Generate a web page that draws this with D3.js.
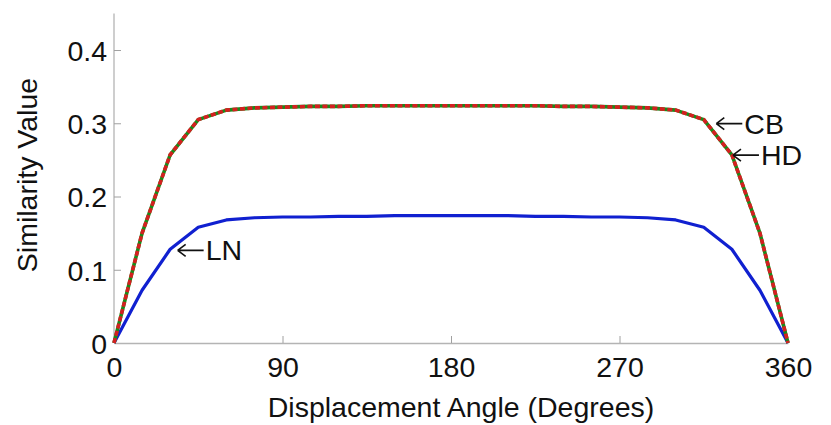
<!doctype html>
<html>

<head>
    <meta charset="utf-8">
    <title>Similarity</title>
    <style>
    body {
        margin: 0;
        background: #fff;
    }

    text {
        font-family: "Liberation Sans", Arial, sans-serif;
        fill: #111;
    }
    </style>
    <script src="https://cdn.jsdelivr.net/npm/d3@7"></script>
</head>

<body>
    <script>
    var angles = [0, 15, 30, 45, 60, 75, 90, 105, 120, 135, 150, 165, 180,
        195, 210, 225, 240, 255, 270, 285, 300, 315, 330, 345, 360];
    var cbhd = [0, 0.150, 0.257, 0.305, 0.318, 0.321, 0.322, 0.323, 0.323, 0.324, 0.324, 0.324, 0.324,
        0.324, 0.324, 0.324, 0.323, 0.323, 0.322, 0.321, 0.318, 0.305, 0.257, 0.150, 0];
    var ln = [0, 0.072, 0.128, 0.158, 0.168, 0.171, 0.172, 0.172, 0.173, 0.173, 0.174, 0.174, 0.174,
        0.174, 0.174, 0.173, 0.173, 0.172, 0.172, 0.171, 0.168, 0.158, 0.128, 0.072, 0];
    var xTicks = [0, 90, 180, 270, 360];
    var yTicks = [0, 0.1, 0.2, 0.3, 0.4];
    // arrow tip position (angle, value) for each label
    var notes = [
        { label: "CB", a: 321.7, v: 0.2995 },
        { label: "HD", a: 330.6, v: 0.2565 },
        { label: "LN", a: 34.0, v: 0.1265 }
    ];

    var w = 831,
        h = 425,
        fs = 28.5;

    var x = d3.scaleLinear().domain([0, 360]).range([114, 788]);
    var y = d3.scaleLinear().domain([0, 0.45]).range([343, 13.4]);

    var svg = d3.select("body").append("svg")
        .attr("width", w)
        .attr("height", h);

    // axes, matlab style: ticks inward, grey lines
    var xAxis = svg.append("g")
        .attr("transform", "translate(0," + y(0) + ")")
        .call(d3.axisBottom(x).tickValues(xTicks).tickSizeInner(-7).tickSizeOuter(0).tickPadding(14));
    var yAxis = svg.append("g")
        .attr("transform", "translate(" + x(0) + ",0)")
        .call(d3.axisLeft(y).tickValues(yTicks).tickFormat(function(d) { return d === 0 ? "0" : d3.format(".1f")(d); })
            .tickSizeInner(-7).tickSizeOuter(0).tickPadding(7));

    [xAxis, yAxis].forEach(function(g) {
        g.select(".domain").attr("stroke", "#b4b4b4").attr("stroke-width", 1.3);
        g.selectAll(".tick line").attr("stroke", "#a0a0a0").attr("stroke-width", 1);
        g.selectAll(".tick text")
            .attr("font-family", "Liberation Sans, Arial, sans-serif")
            .attr("font-size", fs)
            .attr("fill", "#111");
    });
    xAxis.selectAll(".tick text").attr("dy", "0.71em");
    yAxis.selectAll(".tick text").attr("dy", "0.36em");
    yAxis.selectAll(".tick line").filter(function(d) { return d === 0; }).remove();
    xAxis.selectAll(".tick line").filter(function(d) { return d === 0 || d === 360; }).remove();

    // top of y axis extends to domain max
    yAxis.select(".domain").attr("d", "M0," + y(0) + "V" + y(0.45));

    var line = d3.line()
        .x(function(d) { return x(d[0]); })
        .y(function(d) { return y(d[1]); });

    svg.append("path")
        .datum(d3.zip(angles, ln))
        .attr("d", line)
        .attr("fill", "none")
        .attr("stroke", "#1020d0")
        .attr("stroke-width", 3.2)
        .attr("stroke-linejoin", "round");

    svg.append("path")
        .datum(d3.zip(angles, cbhd))
        .attr("d", line)
        .attr("fill", "none")
        .attr("stroke", "#1a8a1a")
        .attr("stroke-width", 3.6)
        .attr("stroke-linejoin", "round");

    svg.append("path")
        .datum(d3.zip(angles, cbhd))
        .attr("d", line)
        .attr("fill", "none")
        .attr("stroke", "#d42020")
        .attr("stroke-width", 3.6)
        .attr("stroke-dasharray", "5,2.5");

    // text arrows like matlab's \leftarrow
    var note = svg.selectAll(".note")
        .data(notes)
        .enter().append("g")
        .attr("class", "note")
        .attr("transform", function(d) { return "translate(" + x(d.a) + "," + y(d.v) + ")"; });

    note.append("path")
        .attr("d", "M0,0H26M0,0L8,-6M0,0L8,6")
        .attr("fill", "none")
        .attr("stroke", "#111")
        .attr("stroke-width", 1.6);

    note.append("text")
        .attr("x", 28)
        .attr("y", 10)
        .attr("font-size", fs)
        .text(function(d) { return d.label; });

    svg.append("text")
        .attr("x", 461)
        .attr("y", 417)
        .attr("text-anchor", "middle")
        .attr("font-size", fs)
        .text("Displacement Angle (Degrees)");

    svg.append("text")
        .attr("transform", "translate(37,175)rotate(-90)")
        .attr("text-anchor", "middle")
        .attr("font-size", fs)
        .text("Similarity Value");
    </script>
</body>

</html>
